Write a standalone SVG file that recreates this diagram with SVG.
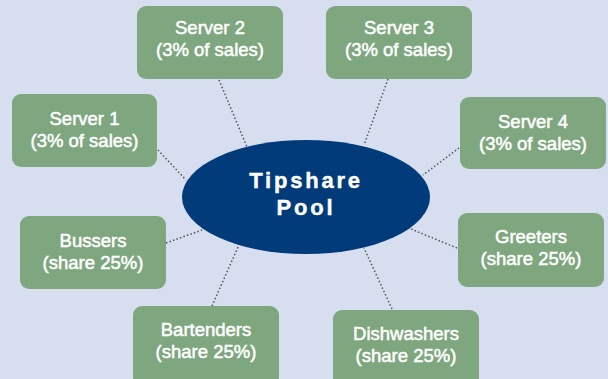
<svg xmlns="http://www.w3.org/2000/svg" width="608" height="379" viewBox="0 0 608 379">
<style>
.bg{fill:#D6DEF0}
.box{fill:#7FA77F}
.lbl{font-family:"Liberation Sans",Arial,sans-serif;font-size:18.5px;fill:#FFFFFF;stroke:#FFFFFF;stroke-width:0.5;text-anchor:middle}
.hub{fill:#023B7A}
.hubt{font-family:"Liberation Sans",Arial,sans-serif;font-size:22px;font-weight:bold;fill:#FFFFFF;stroke:#FFFFFF;stroke-width:0.4;text-anchor:middle;letter-spacing:2.8px}
.con{stroke:#555;stroke-width:1.5;stroke-dasharray:1.5 2.2;fill:none}
</style>
<rect class="bg" x="0" y="0" width="608" height="379"/>
<g id="connectors">
<line class="con" x1="158" y1="150" x2="186" y2="180"/>
<line class="con" x1="219" y1="80" x2="247" y2="147"/>
<line class="con" x1="388" y1="79" x2="364" y2="145"/>
<line class="con" x1="459" y1="148" x2="423" y2="175"/>
<line class="con" x1="166" y1="243" x2="202" y2="230"/>
<line class="con" x1="212" y1="306" x2="238" y2="247"/>
<line class="con" x1="457" y1="248" x2="411" y2="229"/>
<line class="con" x1="392" y1="309" x2="364" y2="248"/>
</g>
<g id="pool">
<ellipse class="hub" cx="306" cy="197" rx="124" ry="57"/>
<text class="hubt" x="306" y="188">Tipshare</text>
<text class="hubt" x="306" y="215">Pool</text>
</g>
<g id="server1">
<rect class="box" x="12" y="94" width="145" height="73" rx="9"/>
<text class="lbl" x="84.5" y="125">Server 1</text>
<text class="lbl" x="84.5" y="147">(3% of sales)</text>
</g>
<g id="server2">
<rect class="box" x="137" y="6" width="146" height="73" rx="9"/>
<text class="lbl" x="210" y="34">Server 2</text>
<text class="lbl" x="210" y="56">(3% of sales)</text>
</g>
<g id="server3">
<rect class="box" x="326" y="6" width="146" height="73" rx="9"/>
<text class="lbl" x="399" y="34">Server 3</text>
<text class="lbl" x="399" y="56">(3% of sales)</text>
</g>
<g id="server4">
<rect class="box" x="460" y="97" width="146" height="72" rx="9"/>
<text class="lbl" x="533" y="128">Server 4</text>
<text class="lbl" x="533" y="150">(3% of sales)</text>
</g>
<g id="bussers">
<rect class="box" x="20" y="216" width="146" height="73" rx="9"/>
<text class="lbl" x="93" y="247">Bussers</text>
<text class="lbl" x="93" y="269">(share 25%)</text>
</g>
<g id="greeters">
<rect class="box" x="458" y="213" width="146" height="74" rx="9"/>
<text class="lbl" x="531" y="243">Greeters</text>
<text class="lbl" x="531" y="265">(share 25%)</text>
</g>
<g id="bartenders">
<rect class="box" x="133" y="306" width="146" height="80" rx="9"/>
<text class="lbl" x="206" y="336">Bartenders</text>
<text class="lbl" x="206" y="358">(share 25%)</text>
</g>
<g id="dishwashers">
<rect class="box" x="333" y="310" width="146" height="80" rx="9"/>
<text class="lbl" x="406" y="340">Dishwashers</text>
<text class="lbl" x="406" y="362">(share 25%)</text>
</g>
</svg>
